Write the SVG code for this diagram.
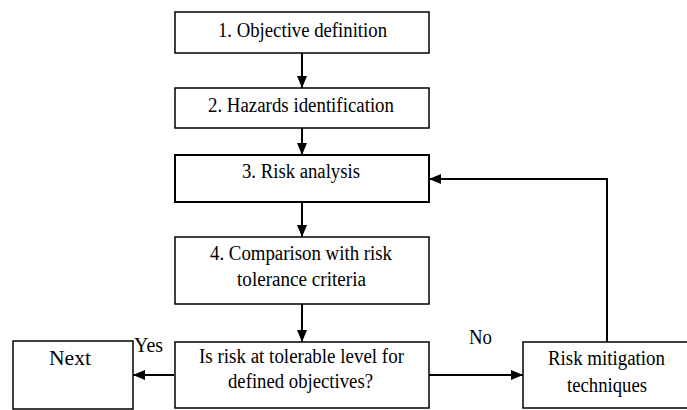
<svg xmlns="http://www.w3.org/2000/svg" width="687" height="410" viewBox="0 0 687 410">
<style>
.n{fill:#fff;stroke:#000;stroke-width:1.5}
text{font-family:'Liberation Serif','Times New Roman',serif;font-size:20px;fill:#000;text-anchor:middle}
.c{fill:none;stroke:#000;stroke-width:2}
</style>
<defs>
<marker id="ah" markerWidth="13" markerHeight="10" refX="12" refY="5" orient="auto" markerUnits="userSpaceOnUse">
<path d="M0,0 L12,5 L0,10 Z" fill="#000"/>
</marker>
</defs>
<rect width="687" height="410" fill="#fff"/>
<g id="connectors">
<line class="c" x1="302" y1="53" x2="302" y2="88" marker-end="url(#ah)"/>
<line class="c" x1="302" y1="128" x2="302" y2="155" marker-end="url(#ah)"/>
<line class="c" x1="302" y1="202" x2="302" y2="237" marker-end="url(#ah)"/>
<line class="c" x1="302" y1="304" x2="302" y2="342" marker-end="url(#ah)"/>
<line class="c" x1="174" y1="375" x2="133" y2="375" marker-end="url(#ah)"/>
<line class="c" x1="429" y1="375" x2="523" y2="375" marker-end="url(#ah)"/>
<polyline class="c" points="607,342 607,179 429,179" marker-end="url(#ah)"/>
<text x="148.5" y="352" textLength="29" lengthAdjust="spacingAndGlyphs">Yes</text>
<text x="480.5" y="344" textLength="23" lengthAdjust="spacingAndGlyphs">No</text>
</g>
<g id="n1"><rect class="n" x="175" y="12" width="254" height="41"/><text x="302.5" y="37" textLength="169" lengthAdjust="spacingAndGlyphs">1. Objective definition</text></g>
<g id="n2"><rect class="n" x="175" y="88" width="254" height="40"/><text x="301" y="112" textLength="186" lengthAdjust="spacingAndGlyphs">2. Hazards identification</text></g>
<g id="n3"><rect class="n" x="175" y="155" width="254" height="47" style="stroke-width:2"/><text x="301" y="178" textLength="118" lengthAdjust="spacingAndGlyphs">3. Risk analysis</text></g>
<g id="n4"><rect class="n" x="175" y="237" width="254" height="67"/><text x="301" y="260" textLength="182" lengthAdjust="spacingAndGlyphs">4. Comparison with risk</text><text x="301.5" y="286" textLength="129" lengthAdjust="spacingAndGlyphs">tolerance criteria</text></g>
<g id="n5"><rect class="n" x="175" y="342" width="254" height="66"/><text x="301.5" y="363" textLength="205" lengthAdjust="spacingAndGlyphs">Is risk at tolerable level for</text><text x="300.5" y="388" textLength="145" lengthAdjust="spacingAndGlyphs">defined objectives?</text></g>
<g id="n6"><rect class="n" x="13" y="341" width="120" height="68"/><text x="70" y="365" textLength="42" lengthAdjust="spacingAndGlyphs">Next</text></g>
<g id="n7"><rect class="n" x="523" y="342" width="170" height="66"/><text x="606.5" y="365" textLength="117" lengthAdjust="spacingAndGlyphs">Risk mitigation</text><text x="607" y="392" textLength="80" lengthAdjust="spacingAndGlyphs">techniques</text></g>
</svg>
